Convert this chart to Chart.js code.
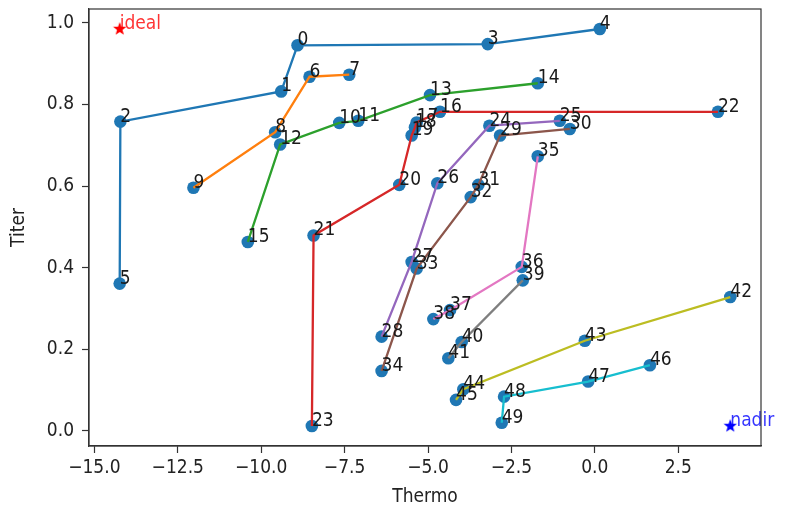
<!DOCTYPE html>
<html>
<head>
<meta charset="utf-8">
<script src="https://cdn.jsdelivr.net/npm/chart.js@4.4.1/dist/chart.umd.min.js"></script>
<style>
  html, body { margin: 0; padding: 0; background: #fff; }
  canvas { display: block; }
</style>
</head>
<body>
<canvas id="chart" width="785" height="508"></canvas>
<script>
// values, point index = position in the arrays
const thermo = [
  -8.91, -9.40, -14.22, -3.21, 0.15, -14.24, -8.55, -7.36, -9.58, -12.03,
  -7.66, -7.09, -9.43, -4.94, -1.71, -10.40, -4.64, -5.34, -5.39, -5.49,
  -5.86, -8.43, 3.69, -8.48, -3.16, -1.05, -4.72, -5.49, -6.39, -2.84,
  -0.75, -3.49, -3.72, -5.34, -6.39, -1.71, -2.19, -4.34, -4.84, -2.16,
  -3.99, -4.39, 4.06, -0.30, -3.94, -4.16, 1.65, -0.20, -2.72, -2.79
];
const titer = [
  0.945, 0.832, 0.758, 0.948, 0.985, 0.361, 0.868, 0.873, 0.732, 0.596,
  0.755, 0.760, 0.702, 0.823, 0.852, 0.463, 0.782, 0.756, 0.744, 0.724,
  0.603, 0.479, 0.782, 0.012, 0.748, 0.760, 0.607, 0.414, 0.231, 0.724,
  0.740, 0.603, 0.573, 0.398, 0.147, 0.673, 0.402, 0.296, 0.274, 0.369,
  0.218, 0.178, 0.328, 0.221, 0.102, 0.076, 0.161, 0.121, 0.084, 0.020
];
// each group's line, in drawing order
const paths = [
  [5, 2, 1, 0, 3, 4],
  [9, 8, 6, 7],
  [15, 12, 10, 11, 13, 14],
  [23, 21, 20, 19, 18, 17, 16, 22],
  [28, 27, 26, 24, 25],
  [34, 33, 32, 31, 29, 30],
  [38, 37, 36, 35],
  [41, 40, 39],
  [45, 44, 43, 42],
  [49, 48, 47, 46]
];
const ideal = [-14.24, 0.985];
const nadir = [4.06, 0.012];
const xTicks = [-15, -12.5, -10, -7.5, -5, -2.5, 0, 2.5];
const yTicks = [0, 0.2, 0.4, 0.6, 0.8, 1.0];

const tab10 = ['#1f77b4', '#ff7f0e', '#2ca02c', '#d62728', '#9467bd',
               '#8c564b', '#e377c2', '#7f7f7f', '#bcbd22', '#17becf'];
const FONT = '"DejaVu Sans Condensed", "DejaVu Sans", sans-serif';

function starImage(color) {
    const c = document.createElement('canvas');
    c.width = 16; c.height = 16;
    const g = c.getContext('2d');
    g.fillStyle = color;
    g.beginPath();
    for (let i = 0; i < 10; i++) {
        const r = i % 2 === 0 ? 7 : 2.9;
        const a = -Math.PI / 2 + i * Math.PI / 5;
        g.lineTo(8 + r * Math.cos(a), 8 + r * Math.sin(a));
    }
    g.closePath();
    g.fill();
    return c;
}

const points = thermo.map((x, i) => ({ x, y: titer[i] }));

const datasets = [{
    data: points,
    pointRadius: 6.3,
    pointBackgroundColor: '#1f77b4',
    pointBorderWidth: 0,
    showLine: false,
    order: 20
}];
paths.forEach((p, k) => {
    datasets.push({
        data: p.map(i => points[i]),
        showLine: true,
        borderColor: tab10[k],
        borderWidth: 2.3,
        pointRadius: 0,
        order: 5
    });
});
datasets.push({ data: [{ x: ideal[0], y: ideal[1] }], pointStyle: starImage('#ff0000'), pointRadius: 8, order: 1 });
datasets.push({ data: [{ x: nadir[0], y: nadir[1] }], pointStyle: starImage('#0000ff'), pointRadius: 8, order: 1 });

const fmt = v => {
    const s = Math.abs(v).toFixed(1);
    return v < 0 ? '\u2212' + s : s;
};

const labelsPlugin = {
    id: 'pointLabels',
    afterDatasetsDraw(chart) {
        const { ctx, scales: { x, y } } = chart;
        ctx.save();
        ctx.font = '19px ' + FONT;
        ctx.textAlign = 'left';
        ctx.textBaseline = 'alphabetic';
        ctx.fillStyle = '#1a1a1a';
        points.forEach((p, i) => {
            ctx.fillText(String(i), x.getPixelForValue(p.x), y.getPixelForValue(p.y));
        });
        ctx.fillStyle = 'rgba(255,0,0,0.8)';
        ctx.fillText('ideal', x.getPixelForValue(ideal[0]), y.getPixelForValue(ideal[1]));
        ctx.fillStyle = 'rgba(0,0,255,0.8)';
        ctx.fillText('nadir', x.getPixelForValue(nadir[0]), y.getPixelForValue(nadir[1]));
        ctx.restore();
    },
    afterDraw(chart) {
        const a = chart.chartArea;
        const ctx = chart.ctx;
        ctx.save();
        ctx.strokeStyle = '#333';
        ctx.lineWidth = 1.2;
        ctx.strokeRect(a.left, a.top, a.right - a.left, a.bottom - a.top);
        ctx.restore();
    }
};

new Chart(document.getElementById('chart'), {
    type: 'scatter',
    data: { datasets },
    plugins: [labelsPlugin],
    options: {
        responsive: false,
        devicePixelRatio: 1,
        animation: false,
        layout: { padding: { top: 8, right: 24, left: 0, bottom: 0 } },
        plugins: { legend: { display: false }, tooltip: { enabled: false } },
        scales: {
            x: {
                min: -15.16, max: 4.98,
                afterBuildTicks: s => { s.ticks = xTicks.map(v => ({ value: v })); },
                afterFit: s => { s.height = 62; },
                ticks: { callback: v => fmt(v), color: '#222', font: { family: FONT, size: 19 }, padding: 4, maxRotation: 0 },
                grid: { drawOnChartArea: false, tickLength: 7, color: '#333', tickWidth: 1.2 },
                border: { color: '#333', width: 1.2 },
                title: { display: true, text: 'Thermo', color: '#222', font: { family: FONT, size: 19 }, padding: 0 }
            },
            y: {
                min: -0.037, max: 1.034,
                afterBuildTicks: s => { s.ticks = yTicks.map(v => ({ value: v })); },
                afterFit: s => { s.width = 89; s.paddingTop = 0; s.paddingBottom = 0; },
                ticks: { callback: v => fmt(v), color: '#222', font: { family: FONT, size: 19 }, padding: 8 },
                grid: { drawOnChartArea: false, tickLength: 7, color: '#333', tickWidth: 1.2 },
                border: { color: '#333', width: 1.2 },
                title: { display: true, text: 'Titer', color: '#222', font: { family: FONT, size: 19 }, padding: { top: 8 } }
            }
        }
    }
});
</script>
</body>
</html>
